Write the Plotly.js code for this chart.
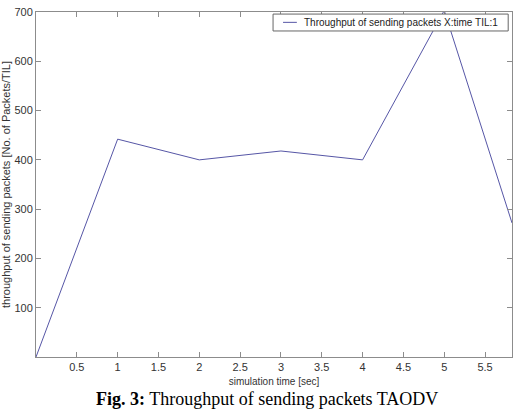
<!DOCTYPE html>
<html>
<head>
<meta charset="utf-8">
<script src="https://cdn.plot.ly/plotly-3.0.1.min.js"></script>
<style>html,body{margin:0;padding:0;background:#fff;}#chart{width:523px;height:410px;}</style>
</head>
<body>
<div id="chart"></div>
<script>
const timeSec = [0, 1, 2, 3, 4, 5, 5.83];
const throughput = [0, 442, 400, 418, 400, 703, 272];
const xTicks = [0.5, 1, 1.5, 2, 2.5, 3, 3.5, 4, 4.5, 5, 5.5];
const yTicks = [100, 200, 300, 400, 500, 600, 700];
const seriesName = 'Throughput of sending packets X:time TIL:1';
const lineColor = '#5656a6';

const axisCommon = {
  showgrid: false, zeroline: false, showline: true, linecolor: '#8c8c8c', linewidth: 1,
  mirror: 'ticks', ticks: 'inside', ticklen: 5, tickcolor: '#8c8c8c',
  tickfont: {family: 'Liberation Sans, Arial', size: 11, color: '#333'}
};
const trace = {x: timeSec, y: throughput, type: 'scatter', mode: 'lines', name: seriesName,
  line: {color: lineColor, width: 1}};
const layout = {
  width: 523, height: 410,
  margin: {l: 36, r: 11, t: 12, b: 53},
  paper_bgcolor: '#fff', plot_bgcolor: '#fff',
  showlegend: false,
  xaxis: Object.assign({}, axisCommon, {range: [0, 5.83], tickvals: xTicks, ticktext: xTicks.map(String),
    title: {text: 'simulation time [sec]', font: {family: 'Liberation Sans, Arial', size: 10, color: '#333'}, standoff: 5}}),
  yaxis: Object.assign({}, axisCommon, {range: [0, 700], tickvals: yTicks, ticktext: yTicks.map(String),
    title: {text: 'throughput of sending packets [No. of Packets/TIL]', font: {family: 'Liberation Sans, Arial', size: 11, color: '#333'}, standoff: 4}}),
  shapes: [
    {type: 'rect', xref: 'paper', yref: 'paper', x0: 0.498, x1: 0.992, y0: 0.945, y1: 0.994,
      line: {color: '#666', width: 1}, fillcolor: '#fff', layer: 'above'},
    {type: 'line', xref: 'paper', yref: 'paper', x0: 0.519, x1: 0.548, y0: 0.970, y1: 0.970,
      line: {color: lineColor, width: 1}, layer: 'above'}
  ],
  annotations: [
    {xref: 'paper', yref: 'paper', x: 0.558, y: 0.970, xanchor: 'left', yanchor: 'middle',
      showarrow: false, text: seriesName,
      font: {family: 'Liberation Sans, Arial', size: 10, color: '#222'}},
    {xref: 'paper', yref: 'paper', x: 0.485, y: 0, yshift: -42, xanchor: 'center', yanchor: 'middle',
      showarrow: false, text: '<b>Fig. 3:</b> Throughput of sending packets TAODV',
      font: {family: 'Liberation Serif, Times New Roman', size: 18, color: '#000'}}
  ]
};
Plotly.newPlot('chart', [trace], layout, {displayModeBar: false, staticPlot: true});
</script>
</body>
</html>
